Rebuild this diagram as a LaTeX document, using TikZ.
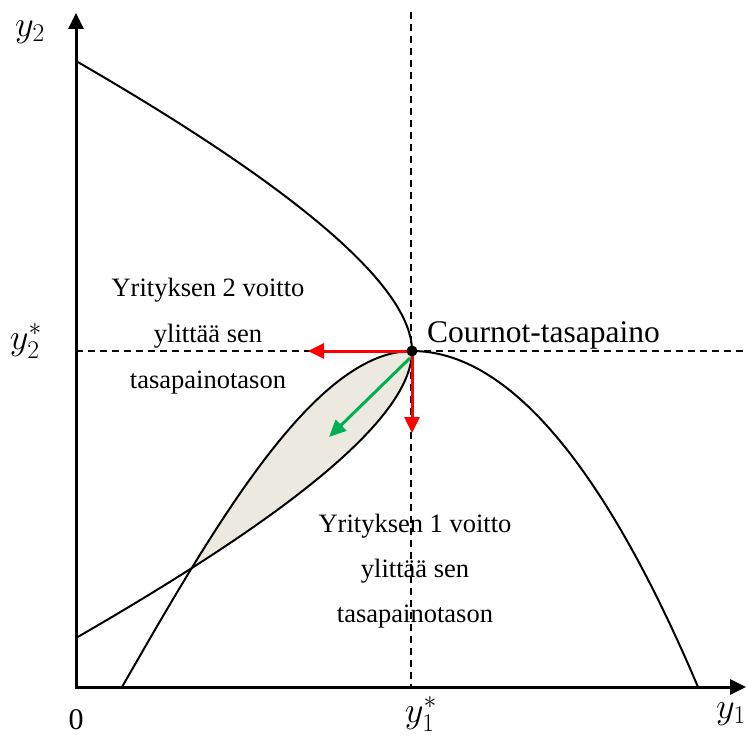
\RequirePackage{fix-cm}
\documentclass[tikz,border=0pt]{standalone}
\usepackage{fontspec}
\setmainfont{Liberation Serif}
\usetikzlibrary{arrows.meta}
\definecolor{arrred}{RGB}{255,0,0}
\definecolor{arrgreen}{RGB}{0,176,80}
\definecolor{lenscol}{RGB}{236,234,224}
\begin{document}
\begin{tikzpicture}[x=1pt,y=-1pt,
  axisline/.style={line width=3pt,{Triangle[length=16pt,width=15pt]}-{Triangle[length=16pt,width=15pt]}},
  curveline/.style={line width=2pt},
  guideline/.style={line width=1.8pt,dash pattern=on 7pt off 5pt},
  redarrow/.style={line width=3pt,draw=arrred,-{Triangle[length=16pt,width=15pt]},fill=arrred},
  greenarrow/.style={line width=3pt,draw=arrgreen,-{Triangle[length=17pt,width=15pt]},fill=arrgreen},
  lensfill/.style={fill=lenscol},
  txt/.style={font=\fontsize{26.5}{30}\selectfont,inner sep=0pt,anchor=base},
  mlbl/.style={font=\fontsize{28}{32}\selectfont,inner sep=0pt,scale=1.3}
]
\useasboundingbox (0,0) rectangle (747,735);

% shaded lens
\begin{scope}
  \clip (412,351) .. controls (315,351) and (215,525) .. (122,687) -- (412,687) -- cycle;
  \fill[lensfill] (412,351) .. controls (412,432) and (230,549) .. (76,638) -- (76,351) -- cycle;
\end{scope}

% guide lines
\draw[guideline] (76,351) -- (747,351);
\draw[guideline] (411,12) -- (411,687);

% curves
\draw[curveline] (76,61) .. controls (230,150) and (412,270) .. (412,351)
  .. controls (412,432) and (230,549) .. (76,638);
\draw[curveline] (122,687) .. controls (215,525) and (315,351) .. (412,351)
  .. controls (507,351) and (603,463) .. (698,687);

% axes
\coordinate (ytop) at (76,13);
\coordinate (orig) at (76,687);
\coordinate (xend) at (746,687);
\draw[axisline] (ytop) -- (orig) -- (xend);

% equilibrium and arrows
\coordinate (E) at (412,351);
\coordinate (leftend) at (308,351);
\coordinate (downend) at (412,433);
\coordinate (gstart) at (410,358);
\coordinate (gend) at (329,437);
\draw[redarrow] (E) -- (leftend);
\draw[redarrow] (E) -- (downend);
\draw[greenarrow] (gstart) -- (gend);
\node[circle,fill=black,minimum size=11pt,inner sep=0pt] (eq) at (E) {};

% texts
\node[txt,anchor=base west,font=\fontsize{31.5}{36}\selectfont] (cournot) at (427,342) {Cournot-tasapaino};
\node[txt] (a1) at (208,297) {Yrityksen 2 voitto};
\node[txt] (a2) at (208,342) {ylittää sen};
\node[txt] (a3) at (208,388) {tasapainotason};
\node[txt] (b1) at (415,532) {Yrityksen 1 voitto};
\node[txt] (b2) at (415,577) {ylittää sen};
\node[txt] (b3) at (415,622) {tasapainotason};

\node[mlbl] (ly2) at (30,32) {$y_2$};
\node[mlbl] (ly2s) at (26,341) {$y_2^*$};
\node[mlbl] (ly1s) at (421,714) {$y_1^*$};
\node[mlbl] (ly1) at (731,714) {$y_1$};
\node[inner sep=0pt,font=\fontsize{30}{34}\selectfont] (zero) at (76,720) {0};
\end{tikzpicture}
\end{document}
